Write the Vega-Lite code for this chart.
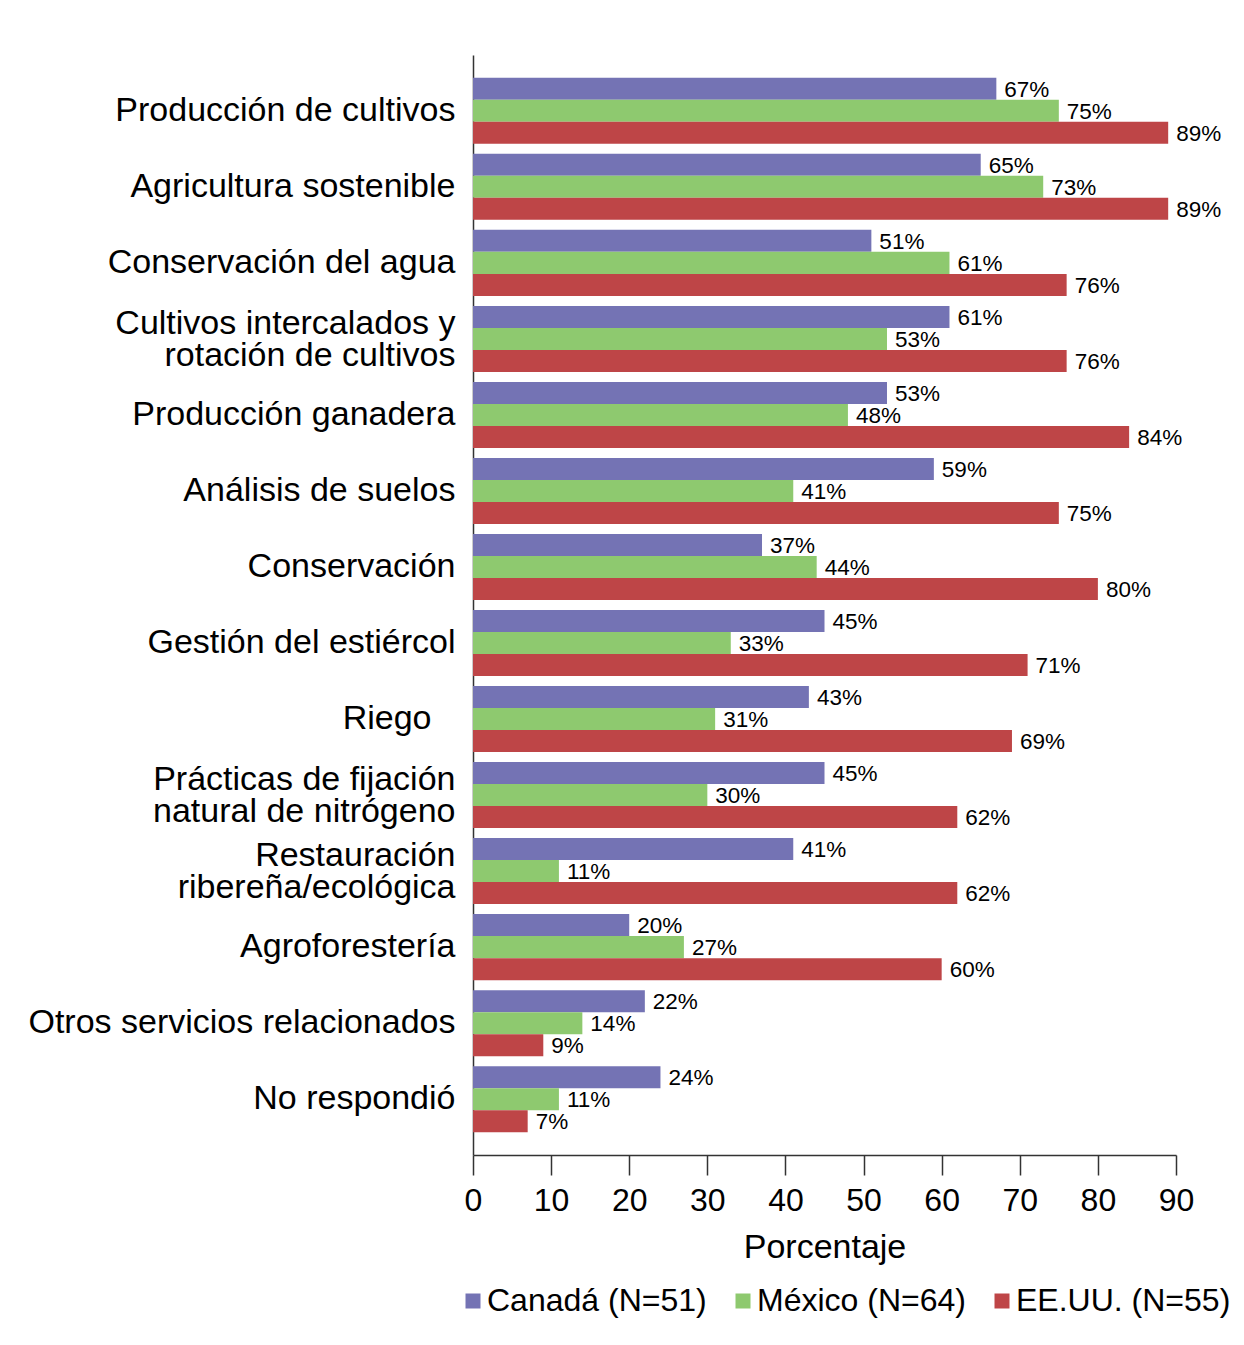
{
  "$schema": "https://vega.github.io/schema/vega-lite/v6.json",
  "autosize": {"type": "none"},
  "width": 703,
  "height": 1100,
  "padding": {"left": 473, "top": 55, "right": 68, "bottom": 190},
  "background": "white",
  "config": {
    "font": "Liberation Sans",
    "view": {"stroke": null}
  },
  "data": {
    "values": [
      {"category": "Producción de cultivos", "country": "Canadá (N=51)", "value": 67},
      {"category": "Producción de cultivos", "country": "México (N=64)", "value": 75},
      {"category": "Producción de cultivos", "country": "EE.UU. (N=55)", "value": 89},
      {"category": "Agricultura sostenible", "country": "Canadá (N=51)", "value": 65},
      {"category": "Agricultura sostenible", "country": "México (N=64)", "value": 73},
      {"category": "Agricultura sostenible", "country": "EE.UU. (N=55)", "value": 89},
      {"category": "Conservación del agua", "country": "Canadá (N=51)", "value": 51},
      {"category": "Conservación del agua", "country": "México (N=64)", "value": 61},
      {"category": "Conservación del agua", "country": "EE.UU. (N=55)", "value": 76},
      {"category": "Cultivos intercalados y|rotación de cultivos", "country": "Canadá (N=51)", "value": 61},
      {"category": "Cultivos intercalados y|rotación de cultivos", "country": "México (N=64)", "value": 53},
      {"category": "Cultivos intercalados y|rotación de cultivos", "country": "EE.UU. (N=55)", "value": 76},
      {"category": "Producción ganadera", "country": "Canadá (N=51)", "value": 53},
      {"category": "Producción ganadera", "country": "México (N=64)", "value": 48},
      {"category": "Producción ganadera", "country": "EE.UU. (N=55)", "value": 84},
      {"category": "Análisis de suelos", "country": "Canadá (N=51)", "value": 59},
      {"category": "Análisis de suelos", "country": "México (N=64)", "value": 41},
      {"category": "Análisis de suelos", "country": "EE.UU. (N=55)", "value": 75},
      {"category": "Conservación", "country": "Canadá (N=51)", "value": 37},
      {"category": "Conservación", "country": "México (N=64)", "value": 44},
      {"category": "Conservación", "country": "EE.UU. (N=55)", "value": 80},
      {"category": "Gestión del estiércol", "country": "Canadá (N=51)", "value": 45},
      {"category": "Gestión del estiércol", "country": "México (N=64)", "value": 33},
      {"category": "Gestión del estiércol", "country": "EE.UU. (N=55)", "value": 71},
      {"category": "Riego", "country": "Canadá (N=51)", "value": 43},
      {"category": "Riego", "country": "México (N=64)", "value": 31},
      {"category": "Riego", "country": "EE.UU. (N=55)", "value": 69},
      {"category": "Prácticas de fijación|natural de nitrógeno", "country": "Canadá (N=51)", "value": 45},
      {"category": "Prácticas de fijación|natural de nitrógeno", "country": "México (N=64)", "value": 30},
      {"category": "Prácticas de fijación|natural de nitrógeno", "country": "EE.UU. (N=55)", "value": 62},
      {"category": "Restauración|ribereña/ecológica", "country": "Canadá (N=51)", "value": 41},
      {"category": "Restauración|ribereña/ecológica", "country": "México (N=64)", "value": 11},
      {"category": "Restauración|ribereña/ecológica", "country": "EE.UU. (N=55)", "value": 62},
      {"category": "Agroforestería", "country": "Canadá (N=51)", "value": 20},
      {"category": "Agroforestería", "country": "México (N=64)", "value": 27},
      {"category": "Agroforestería", "country": "EE.UU. (N=55)", "value": 60},
      {"category": "Otros servicios relacionados", "country": "Canadá (N=51)", "value": 22},
      {"category": "Otros servicios relacionados", "country": "México (N=64)", "value": 14},
      {"category": "Otros servicios relacionados", "country": "EE.UU. (N=55)", "value": 9},
      {"category": "No respondió", "country": "Canadá (N=51)", "value": 24},
      {"category": "No respondió", "country": "México (N=64)", "value": 11},
      {"category": "No respondió", "country": "EE.UU. (N=55)", "value": 7}
    ]
  },
  "transform": [{"calculate": "datum.value + '%'", "as": "label"}],
  "encoding": {
    "y": {
      "field": "category",
      "type": "nominal",
      "sort": null,
      "scale": {"paddingInner": 0.1316, "paddingOuter": 0.3},
      "axis": {
        "title": null,
        "ticks": false,
        "domainColor": "#333333",
        "domainWidth": 1.5,
        "labelFontSize": 34,
        "labelColor": "black",
        "labelPadding": {"condition": {"test": "datum.value === 'Riego'", "value": 42}, "value": 18},
        "labelLimit": 500,
        "labelLineHeight": 32,
        "labelOffset": {"condition": {"test": "indexof(datum.value, '|') >= 0", "value": -15}, "value": 0},
        "labelExpr": "split(datum.label, '|')"
      }
    },
    "yOffset": {
      "field": "country",
      "type": "nominal",
      "sort": ["Canadá (N=51)", "México (N=64)", "EE.UU. (N=55)"],
      "scale": {"paddingInner": 0, "paddingOuter": 0}
    },
    "x": {
      "field": "value",
      "type": "quantitative",
      "scale": {"domain": [0, 90], "nice": false},
      "axis": {
        "title": "Porcentaje",
        "values": [0, 10, 20, 30, 40, 50, 60, 70, 80, 90],
        "grid": false,
        "labelFlush": false,
        "domainColor": "#333333",
        "domainWidth": 1.5,
        "tickColor": "#333333",
        "tickWidth": 1.5,
        "tickSize": 20,
        "labelFontSize": 32,
        "labelColor": "black",
        "labelPadding": 10,
        "titleFontSize": 34,
        "titleFontWeight": "normal",
        "titleColor": "black",
        "titlePadding": 14
      }
    }
  },
  "layer": [
    {
      "mark": {"type": "bar"},
      "encoding": {
        "color": {
          "field": "country",
          "type": "nominal",
          "sort": ["Canadá (N=51)", "México (N=64)", "EE.UU. (N=55)"],
          "scale": {
            "domain": ["Canadá (N=51)", "México (N=64)", "EE.UU. (N=55)"],
            "range": ["#7473B4", "#8EC96F", "#BE4547"]
          },
          "legend": {
            "title": null,
            "orient": "none",
            "direction": "horizontal",
            "legendX": -16,
            "legendY": 1230,
            "symbolType": "square",
            "symbolSize": 225,
            "symbolStrokeWidth": 0,
            "symbolOpacity": 1,
            "labelFontSize": 32,
            "labelColor": "black",
            "labelOffset": -2,
            "labelLimit": 400,
            "columnPadding": 20
          }
        }
      }
    },
    {
      "mark": {"type": "text", "align": "left", "baseline": "middle", "dx": 8, "dy": 1, "fontSize": 22.5, "color": "black"},
      "encoding": {"text": {"field": "label"}}
    }
  ]
}
